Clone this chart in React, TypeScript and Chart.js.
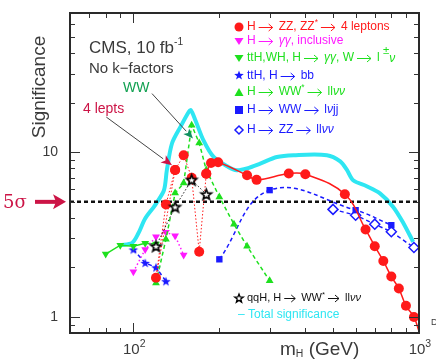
import React, { useEffect, useRef } from 'react';
import { Chart, registerables } from 'chart.js';

Chart.register(...registerables);

const X_MIN = 60;
const X_MAX = 1000;
const Y_MIN = 0.8;
const Y_MAX = 70;

// H -> ZZ(*) -> 4 leptons, low-mass part (dotted zig-zag, in drawing order)
const zz4lLowMass = [140, 120, 130, 140, 150, 160, 170, 180];
const zz4lLowSig = [7.8, 1.73, 4.82, 7.8, 9.6, 7.0, 2.49, 7.4];
// H -> ZZ(*) -> 4 leptons, high-mass part (solid)
const zz4lHighMass = [180, 187, 198, 250, 270, 350, 400, 550, 650, 700, 750, 800, 850, 900, 960, 1000];
const zz4lHighSig = [7.4, 8.6, 8.7, 7.25, 6.8, 7.43, 7.36, 5.56, 3.4, 2.69, 2.19, 1.76, 1.49, 1.17, 1.0, 0.82];
// H -> gamma gamma inclusive
const ggMass = [100, 110, 120, 130, 140, 150];
const ggSig = [1.88, 2.57, 3.07, 3.27, 3.11, 2.38];
// ttH, WH, H -> gamma gamma
const tthGgMass = [80, 90, 100, 110, 120];
const tthGgSig = [2.41, 2.73, 2.69, 2.8, 2.77];
// ttH, H -> bb
const tthBbMass = [100, 110, 120, 130];
const tthBbSig = [2.57, 2.13, 2.0, 1.65];
// H -> WW* -> l l nu nu
const wwMass = [120, 130, 140, 150, 160, 170, 180, 200, 225, 250, 300];
const wwSig = [1.61, 2.96, 5.65, 6.5, 14.6, 11.4, 7.8, 5.36, 3.66, 2.69, 1.66];
// H -> WW -> l nu j j
const wwJjMass = [200, 300, 600, 800];
const wwJjSig = [2.24, 5.89, 4.45, 3.61];
// H -> ZZ -> l l nu nu
const zzNuMass = [500, 600, 700, 800, 960];
const zzNuSig = [4.5, 4.15, 3.66, 3.29, 2.64];
// qqH, H -> WW* -> l l nu nu
const qqhMass = [120, 140, 160, 180];
const qqhSig = [2.69, 4.66, 6.8, 5.56];
// Total significance
const totalMass = [90, 99, 104, 110, 118, 121, 128, 131, 136.5, 146, 156, 159, 165, 176, 191, 215, 230, 250, 278, 318, 364, 476, 530, 560, 588, 656, 730, 812, 883, 954];
const totalSig = [2.73, 2.82, 3.21, 3.96, 4.66, 4.98, 5.89, 7.8, 11.3, 14.2, 17.5, 18.0, 15.6, 11.8, 9.36, 8.15, 7.78, 7.98, 8.53, 9.36, 9.6, 9.6, 8.8, 7.78, 6.76, 6.22, 5.63, 4.66, 3.7, 2.86];
// 5 sigma reference
const fiveSigmaMass = [60, 1000];
const fiveSigmaSig = [5, 5];

const xTicksMinor = [70, 80, 90, 200, 300, 400, 500, 600, 700, 800, 900];
const xTicksMajor = [100];
const yTicksMinor = [0.9, 2, 3, 4, 5, 6, 7, 8, 9, 20, 30, 40, 50, 60];
const yTicksMajor = [1, 10];
const xTickLabels = [{ v: 100, base: '10', exp: '2' }, { v: 1000, base: '10', exp: '3' }];
const yTickLabels = [{ v: 1, t: '1' }, { v: 10, t: '10' }];

const RED = '#ff1a1a';
const MAGENTA = '#ff1aff';
const GREEN = '#1ee01e';
const BLUE = '#1a1aff';
const CYAN = '#2ee6f2';
const CRIMSON = '#cc1446';
const INK = '#3a3a3a';
const SANS = '"Liberation Sans", Arial, sans-serif';

const pts = (xs: number[], ys: number[]) => xs.map((x, i) => ({ x, y: ys[i] }));

function starCanvas(r: number, fill: string, stroke: string, lw: number) {
  const s = Math.ceil(2 * r + lw * 2 + 2);
  const c = document.createElement('canvas');
  c.width = s;
  c.height = s;
  const g = c.getContext('2d')!;
  g.translate(s / 2, s / 2 + 0.5);
  g.beginPath();
  for (let i = 0; i < 10; i++) {
    const rr = i % 2 === 0 ? r : r * 0.42;
    const a = -Math.PI / 2 + (i * Math.PI) / 5;
    g.lineTo(rr * Math.cos(a), rr * Math.sin(a));
  }
  g.closePath();
  g.fillStyle = fill;
  g.fill();
  if (lw > 0) {
    g.lineWidth = lw;
    g.strokeStyle = stroke;
    g.stroke();
  }
  return c;
}

type Part = { t?: string; s?: number; dy?: number; it?: boolean; c?: string; f?: string; arrow?: number };

function drawParts(ctx: CanvasRenderingContext2D, x: number, y: number, parts: Part[], size: number, color: string) {
  let cx = x;
  ctx.textBaseline = 'middle';
  ctx.textAlign = 'left';
  for (const p of parts) {
    if (p.arrow) {
      // long thin arrow like the original "-->"
      const len = p.arrow;
      const x0 = cx + 3;
      const x1 = x0 + len;
      ctx.strokeStyle = p.c ?? color;
      ctx.lineWidth = 1;
      ctx.setLineDash([]);
      ctx.beginPath();
      ctx.moveTo(x0, y + 0.5);
      ctx.lineTo(x1, y + 0.5);
      ctx.moveTo(x1 - 4, y - 3);
      ctx.lineTo(x1, y + 0.5);
      ctx.lineTo(x1 - 4, y + 4);
      ctx.stroke();
      cx = x1 + 6;
      continue;
    }
    const sz = size * (p.s ?? 1);
    ctx.font = `${p.it ? 'italic ' : ''}${sz}px ${p.f ?? SANS}`;
    ctx.fillStyle = p.c ?? color;
    ctx.fillText(p.t ?? '', cx, y + (p.dy ?? 0));
    cx += ctx.measureText(p.t ?? '').width;
  }
  return cx - x;
}

function arrow(ctx: CanvasRenderingContext2D, x0: number, y0: number, x1: number, y1: number, lineColor: string, headColor: string, lw: number, hl: number, hw: number) {
  const ang = Math.atan2(y1 - y0, x1 - x0);
  const bx = x1 - hl * Math.cos(ang);
  const by = y1 - hl * Math.sin(ang);
  ctx.strokeStyle = lineColor;
  ctx.lineWidth = lw;
  ctx.setLineDash([]);
  ctx.beginPath();
  ctx.moveTo(x0, y0);
  ctx.lineTo(bx, by);
  ctx.stroke();
  ctx.fillStyle = headColor;
  ctx.beginPath();
  ctx.moveTo(x1, y1);
  ctx.lineTo(bx + (hw / 2) * Math.sin(ang), by - (hw / 2) * Math.cos(ang));
  ctx.lineTo(bx + hl * 0.25 * Math.cos(ang), by + hl * 0.25 * Math.sin(ang));
  ctx.lineTo(bx - (hw / 2) * Math.sin(ang), by + (hw / 2) * Math.cos(ang));
  ctx.closePath();
  ctx.fill();
}

export default function App() {
  const ref = useRef<HTMLCanvasElement>(null);

  useEffect(() => {
    const blackStar = starCanvas(5.5, '#ffffff', '#000000', 1.6);
    const blueStar = starCanvas(5, BLUE, BLUE, 0);
    const legendBlackStar = starCanvas(4.5, '#ffffff', '#000000', 1.3);

    const decor = {
      id: 'decor',
      afterDraw(chart: any) {
        const ctx: CanvasRenderingContext2D = chart.ctx;
        const a = chart.chartArea;
        const xs = chart.scales.x;
        const ys = chart.scales.y;
        ctx.save();
        // ticks
        ctx.strokeStyle = '#333';
        ctx.lineWidth = 1;
        ctx.setLineDash([]);
        const seg = (x0: number, y0: number, x1: number, y1: number) => {
          ctx.beginPath();
          ctx.moveTo(x0, y0);
          ctx.lineTo(x1, y1);
          ctx.stroke();
        };
        for (const v of [...xTicksMinor, ...xTicksMajor]) {
          const px = Math.round(xs.getPixelForValue(v)) + 0.5;
          const len = xTicksMajor.includes(v) ? 10 : 5;
          seg(px, a.bottom, px, a.bottom - len);
          seg(px, a.top, px, a.top + len);
        }
        for (const v of [...yTicksMinor, ...yTicksMajor]) {
          const py = Math.round(ys.getPixelForValue(v)) + 0.5;
          const len = yTicksMajor.includes(v) ? 10 : 5;
          seg(a.left, py, a.left + len, py);
          seg(a.right, py, a.right - len, py);
        }
        // frame
        ctx.strokeStyle = '#2a2a2a';
        ctx.lineWidth = 2;
        ctx.strokeRect(a.left, a.top, a.right - a.left, a.bottom - a.top);

        // tick labels
        for (const l of yTickLabels) {
          ctx.fillStyle = INK;
          ctx.font = `14px ${SANS}`;
          ctx.textAlign = 'right';
          ctx.textBaseline = 'middle';
          ctx.fillText(l.t, a.left - 12, ys.getPixelForValue(l.v));
        }
        for (const l of xTickLabels) {
          ctx.font = `15px ${SANS}`;
          const w1 = ctx.measureText(l.base).width;
          const px = xs.getPixelForValue(l.v);
          drawParts(ctx, px - w1 / 2 - 2, a.bottom + 17, [{ t: l.base }, { t: l.exp, s: 0.7, dy: -6 }], 15, INK);
        }
        drawParts(ctx, a.right + 12, a.bottom - 10, [{ t: 'D' }], 9, INK);

        // axis titles
        ctx.save();
        ctx.translate(40, 87);
        ctx.rotate(-Math.PI / 2);
        ctx.font = `19px ${SANS}`;
        ctx.fillStyle = INK;
        ctx.textAlign = 'center';
        ctx.textBaseline = 'middle';
        ctx.fillText('Significance', 0, 0);
        ctx.restore();
        drawParts(ctx, 280, 350, [{ t: 'm' }, { t: 'H', s: 0.55, dy: 4 }, { t: ' (GeV)' }], 19, INK);

        // 5 sigma marker
        drawParts(ctx, 3, ys.getPixelForValue(5) + 1, [{ t: '5\u03c3', f: '"DejaVu Serif", serif' }], 18, CRIMSON);
        {
          const py = ys.getPixelForValue(5);
          ctx.strokeStyle = CRIMSON;
          ctx.lineWidth = 4;
          ctx.beginPath();
          ctx.moveTo(35, py);
          ctx.lineTo(57, py);
          ctx.stroke();
          ctx.fillStyle = CRIMSON;
          ctx.beginPath();
          ctx.moveTo(66, py);
          ctx.lineTo(53, py - 7.5);
          ctx.lineTo(56, py);
          ctx.lineTo(53, py + 7.5);
          ctx.closePath();
          ctx.fill();
        }

        // annotations
        drawParts(ctx, 89, 48, [{ t: 'CMS, 10 fb' }, { t: '-1', s: 0.6, dy: -6 }], 17, INK);
        drawParts(ctx, 89, 69, [{ t: 'No k\u2212factors' }], 15, INK);
        drawParts(ctx, 123, 88, [{ t: 'WW' }], 14, '#10a050');
        drawParts(ctx, 83, 109, [{ t: '4 lepts' }], 14, CRIMSON);
        arrow(ctx, xs.getPixelForValue(116.2), ys.getPixelForValue(22.7), xs.getPixelForValue(161.7), ys.getPixelForValue(12.1), '#444', '#109060', 1, 10, 8);
        arrow(ctx, xs.getPixelForValue(80.4), ys.getPixelForValue(16.35), xs.getPixelForValue(136.6), ys.getPixelForValue(8.33), '#444', CRIMSON, 1, 11, 9);

        // legend
        const lx = 239;
        const tx = 247;
        const LS = 12;
        const AR = { arrow: 14 };
        // 1
        ctx.fillStyle = RED;
        ctx.beginPath();
        ctx.arc(lx, 27, 4.5, 0, Math.PI * 2);
        ctx.fill();
        drawParts(ctx, tx, 27, [{ t: 'H' }, AR, { t: 'ZZ, ZZ' }, { t: '*', s: 0.7, dy: -4 }, AR, { t: '4 leptons' }], LS, RED);
        // 2
        ctx.fillStyle = MAGENTA;
        ctx.beginPath();
        ctx.moveTo(lx - 4.5, 38);
        ctx.lineTo(lx + 4.5, 38);
        ctx.lineTo(lx, 45);
        ctx.closePath();
        ctx.fill();
        drawParts(ctx, tx, 41, [{ t: 'H' }, AR, { t: '\u03b3\u03b3', it: true }, { t: ', inclusive' }], LS, MAGENTA);
        // 3
        ctx.fillStyle = GREEN;
        ctx.beginPath();
        ctx.moveTo(lx - 4.5, 55);
        ctx.lineTo(lx + 4.5, 55);
        ctx.lineTo(lx, 62);
        ctx.closePath();
        ctx.fill();
        drawParts(ctx, tx, 58, [{ t: 'ttH,WH, H' }, AR, { t: '\u03b3\u03b3', it: true }, { t: ', W' }, AR, { t: 'l ' }, { t: '\u00b1', s: 0.95, dy: -7 }, { t: '\u03bd', it: true, dy: 1 }], LS, GREEN);
        // 4
        ctx.drawImage(blueStar, lx - blueStar.width / 2, 75 - blueStar.height / 2);
        drawParts(ctx, tx, 76, [{ t: 'ttH, H' }, AR, { t: 'bb' }], LS, BLUE);
        // 5
        ctx.fillStyle = GREEN;
        ctx.beginPath();
        ctx.moveTo(lx - 4.5, 96);
        ctx.lineTo(lx + 4.5, 96);
        ctx.lineTo(lx, 88);
        ctx.closePath();
        ctx.fill();
        drawParts(ctx, tx, 92, [{ t: 'H' }, AR, { t: 'WW' }, { t: '*', s: 0.7, dy: -4 }, AR, { t: 'll' }, { t: '\u03bd\u03bd', it: true }], LS, GREEN);
        // 6
        ctx.fillStyle = BLUE;
        ctx.fillRect(lx - 4, 106, 8, 8);
        drawParts(ctx, tx, 110, [{ t: 'H' }, AR, { t: 'WW' }, AR, { t: 'l' }, { t: '\u03bd', it: true }, { t: 'jj' }], LS, BLUE);
        // 7
        ctx.strokeStyle = BLUE;
        ctx.lineWidth = 1.5;
        ctx.beginPath();
        ctx.moveTo(lx, 126);
        ctx.lineTo(lx + 4, 130);
        ctx.lineTo(lx, 134);
        ctx.lineTo(lx - 4, 130);
        ctx.closePath();
        ctx.stroke();
        drawParts(ctx, tx, 130, [{ t: 'H' }, AR, { t: 'ZZ' }, AR, { t: 'll' }, { t: '\u03bd\u03bd', it: true }], LS, BLUE);
        // bottom legend
        ctx.drawImage(legendBlackStar, lx - legendBlackStar.width / 2, 298 - legendBlackStar.height / 2);
        const AR2 = { arrow: 11 };
        drawParts(ctx, tx, 298, [{ t: 'qqH, H' }, AR2, { t: 'WW' }, { t: '*', s: 0.7, dy: -3 }, AR2, { t: 'll' }, { t: '\u03bd\u03bd', it: true }], 11, '#111');
        drawParts(ctx, 238, 315, [{ t: '\u2013 Total significance' }], LS, CYAN);
        ctx.restore();
      },
    };

    const chart = new Chart(ref.current!, {
      type: 'line',
      data: {
        datasets: [
          {
            label: 'H -> ZZ -> 4l (high mass)',
            data: pts(zz4lHighMass, zz4lHighSig),
            borderColor: RED,
            backgroundColor: RED,
            borderWidth: 1.5,
            tension: 0.4,
            pointStyle: 'circle',
            pointRadius: zz4lHighMass.map((m) => (m >= X_MAX ? 0 : 5)),
            pointBorderWidth: 0,
            order: 1,
          },
          {
            label: 'H -> ZZ -> 4l (low mass)',
            data: pts(zz4lLowMass, zz4lLowSig),
            borderColor: RED,
            backgroundColor: RED,
            borderWidth: 1,
            borderDash: [1.5, 2],
            tension: 0,
            pointStyle: 'circle',
            pointRadius: 5,
            pointBorderWidth: 0,
            order: 2,
          },
          {
            label: 'qqH WW',
            data: pts(qqhMass, qqhSig),
            borderColor: '#222',
            borderWidth: 1,
            borderDash: [1.5, 2],
            tension: 0,
            pointStyle: blackStar as any,
            pointRadius: 6,
            order: 0,
          },
          {
            label: 'H -> WW* -> llvv',
            data: pts(wwMass, wwSig),
            borderColor: GREEN,
            backgroundColor: GREEN,
            borderWidth: 1.5,
            borderDash: [4, 3],
            tension: 0,
            pointStyle: 'triangle',
            pointRadius: 4.5,
            pointBorderWidth: 0,
            order: 3,
          },
          {
            label: 'H -> gg inclusive',
            data: pts(ggMass, ggSig),
            borderColor: MAGENTA,
            backgroundColor: MAGENTA,
            borderWidth: 1.5,
            borderDash: [1.5, 2.5],
            tension: 0,
            pointStyle: 'triangle',
            pointRotation: 180,
            pointRadius: 4.5,
            pointBorderWidth: 0,
            order: 4,
          },
          {
            label: 'ttH,WH gg',
            data: pts(tthGgMass, tthGgSig),
            borderColor: GREEN,
            backgroundColor: GREEN,
            borderWidth: 1.5,
            tension: 0,
            pointStyle: 'triangle',
            pointRotation: 180,
            pointRadius: 4.5,
            pointBorderWidth: 0,
            order: 5,
          },
          {
            label: 'ttH bb',
            data: pts(tthBbMass, tthBbSig),
            borderColor: BLUE,
            backgroundColor: BLUE,
            borderWidth: 1.5,
            borderDash: [4, 3],
            tension: 0,
            pointStyle: blueStar as any,
            pointRadius: 5,
            order: 6,
          },
          {
            label: 'H -> WW -> lvjj',
            data: pts(wwJjMass, wwJjSig),
            borderColor: BLUE,
            backgroundColor: BLUE,
            borderWidth: 1.5,
            borderDash: [4, 3],
            tension: 0.4,
            pointStyle: 'rect',
            pointRadius: 4.5,
            pointBorderWidth: 0,
            order: 7,
          },
          {
            label: 'H -> ZZ -> llvv',
            data: pts(zzNuMass, zzNuSig),
            borderColor: BLUE,
            backgroundColor: '#ffffff',
            borderWidth: 1.5,
            borderDash: [4, 3],
            tension: 0,
            pointStyle: 'rectRot',
            pointRadius: 5,
            pointBorderWidth: 1.5,
            pointBackgroundColor: '#ffffff',
            pointBorderColor: BLUE,
            order: 8,
          },
          {
            label: '5 sigma',
            data: pts(fiveSigmaMass, fiveSigmaSig),
            borderColor: '#111',
            borderWidth: 2.5,
            borderDash: [4, 3],
            pointRadius: 0,
            tension: 0,
            order: 9,
          },
          {
            label: 'Total significance',
            data: pts(totalMass, totalSig),
            borderColor: CYAN,
            borderWidth: 4,
            pointRadius: 0,
            tension: 0.3,
            order: 10,
          },
        ],
      },
      options: {
        responsive: false,
        animation: false,
        events: [],
        layout: { padding: { left: 70, top: 13, right: 17, bottom: 29 } },
        plugins: { legend: { display: false }, tooltip: { enabled: false } },
        scales: {
          x: {
            type: 'logarithmic',
            min: X_MIN,
            max: X_MAX,
            grid: { display: false, drawTicks: false },
            border: { display: false },
            ticks: { display: false },
          },
          y: {
            type: 'logarithmic',
            min: Y_MIN,
            max: Y_MAX,
            grid: { display: false, drawTicks: false },
            border: { display: false },
            ticks: { display: false },
          },
        },
      },
      plugins: [decor],
    } as any);
    return () => chart.destroy();
  }, []);

  return (
    <div style={{ position: 'fixed', left: 0, top: 0, width: 436, height: 362, background: '#ffffff' }}>
      <canvas ref={ref} width={436} height={362} style={{ width: 436, height: 362, display: 'block' }} />
    </div>
  );
}
